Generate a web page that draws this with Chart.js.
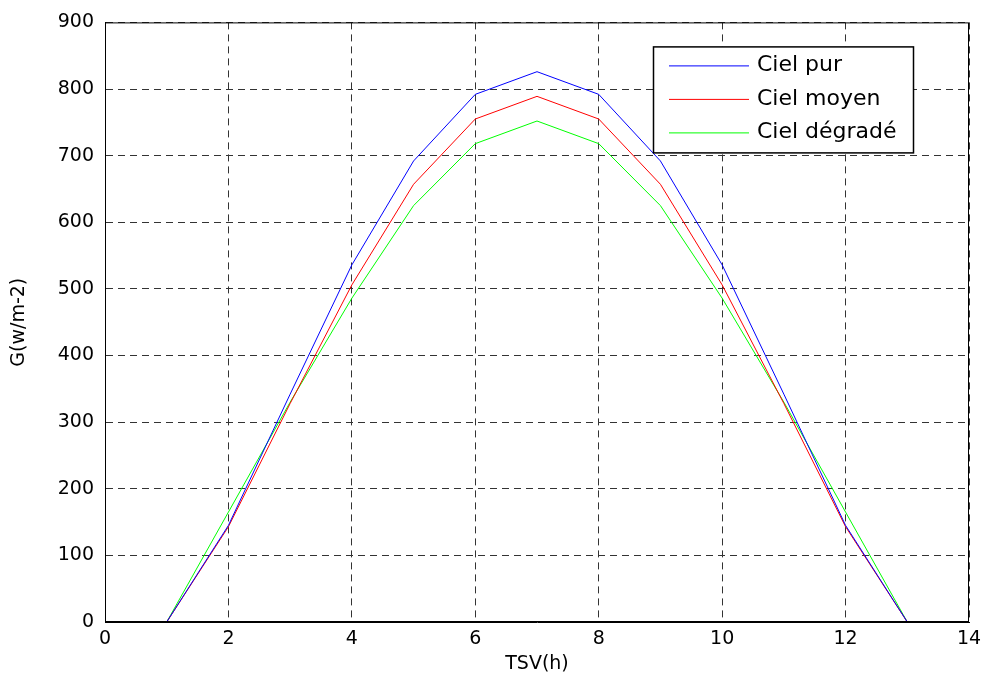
<!DOCTYPE html>
<html>
<head>
<meta charset="utf-8">
<script src="https://cdn.jsdelivr.net/npm/chart.js@4"></script>
<style>
  html, body { margin: 0; padding: 0; background: #fff; }
  #wrap { width: 988px; height: 687px; }
</style>
</head>
<body>
<div id="wrap"><canvas id="irradianceCanvas" width="988" height="687"></canvas></div>
<script>
// hours (TSV) and global irradiance for each sky type
const hours = [1, 2, 3, 4, 5, 6, 7, 8, 9, 10, 11, 12, 13];
const cielPur = [0, 145, 342, 536, 692, 792, 826, 792, 692, 536, 342, 145, 0];
const cielMoyen = [0, 143, 328, 506, 657, 755, 789, 755, 657, 506, 328, 143, 0];
const cielDegrade = [0, 165, 330, 486, 625, 718, 752, 718, 625, 486, 330, 165, 0];
const seriesLabels = ['Ciel pur', 'Ciel moyen', 'Ciel dégradé'];
const seriesColors = ['#0000ff', '#ff0000', '#00ff00'];

const FONT = 'DejaVu Sans, Arial, sans-serif';

function toPoints(values) {
    return hours.map((h, i) => ({ x: h, y: values[i] }));
}

// black box around plot + matlab style legend inside the axes
const boxAndLegend = {
    id: 'boxAndLegend',
    afterDraw(chart) {
        const ctx = chart.ctx;
        const a = chart.chartArea;
        ctx.save();
        ctx.strokeStyle = '#000';
        ctx.lineWidth = 1;
        ctx.setLineDash([]);
        ctx.strokeRect(a.left + 0.5, a.top + 0.5, a.right - a.left - 1, a.bottom - a.top - 1);

        // legend
        const w = 260, h = 106;
        const x0 = a.right - 56 - w;
        const y0 = a.top + 24;
        ctx.fillStyle = '#fff';
        ctx.fillRect(x0, y0, w, h);
        ctx.lineWidth = 1.5;
        ctx.strokeRect(x0 + 0.5, y0 + 0.5, w, h);
        ctx.font = '22px ' + FONT;
        ctx.textBaseline = 'middle';
        ctx.textAlign = 'left';
        chart.data.datasets.forEach((ds, i) => {
            const y = y0 + 19 + i * 33.5;
            ctx.strokeStyle = ds.borderColor;
            ctx.lineWidth = 1;
            ctx.beginPath();
            ctx.moveTo(x0 + 16, y + 0.5);
            ctx.lineTo(x0 + 96, y + 0.5);
            ctx.stroke();
            ctx.fillStyle = '#000';
            ctx.fillText(ds.label, x0 + 104, y);
        });
        ctx.restore();
    }
};

const ctx = document.getElementById('irradianceCanvas').getContext('2d');

new Chart(ctx, {
    type: 'line',
    data: {
        datasets: [cielPur, cielMoyen, cielDegrade].map((vals, i) => ({
            label: seriesLabels[i],
            data: toPoints(vals),
            borderColor: seriesColors[i],
            backgroundColor: seriesColors[i],
            borderWidth: 1,
            pointRadius: 0,
            fill: false,
            tension: 0
        }))
    },
    options: {
        responsive: false,
        animation: false,
        layout: { padding: { left: 0, top: 20, right: 19, bottom: 0 } },
        plugins: {
            legend: { display: false },
            tooltip: { enabled: false }
        },
        scales: {
            x: {
                type: 'linear',
                min: 0,
                max: 14,
                ticks: { stepSize: 2, color: '#000', font: { family: FONT, size: 19 }, padding: 6, maxRotation: 0 },
                grid: { color: '#333', drawTicks: false, lineWidth: 1 },
                border: { display: true, color: '#000', dash: [7, 5] },
                title: { display: true, text: 'TSV(h)', color: '#000', font: { family: FONT, size: 19 }, padding: { top: 0, bottom: 12 } },
                afterFit(scale) { scale.height = 65; }
            },
            y: {
                min: 0,
                max: 900,
                ticks: { stepSize: 100, color: '#000', font: { family: FONT, size: 19 }, padding: 11 },
                grid: { color: '#333', drawTicks: false, lineWidth: 1 },
                border: { display: true, color: '#000', dash: [7, 5] },
                title: { display: true, text: 'G(w/m-2)', color: '#000', font: { family: FONT, size: 19 }, padding: { top: 8, bottom: 0 } },
                afterFit(scale) { scale.width = 105; }
            }
        }
    },
    plugins: [boxAndLegend]
});
</script>
</body>
</html>
